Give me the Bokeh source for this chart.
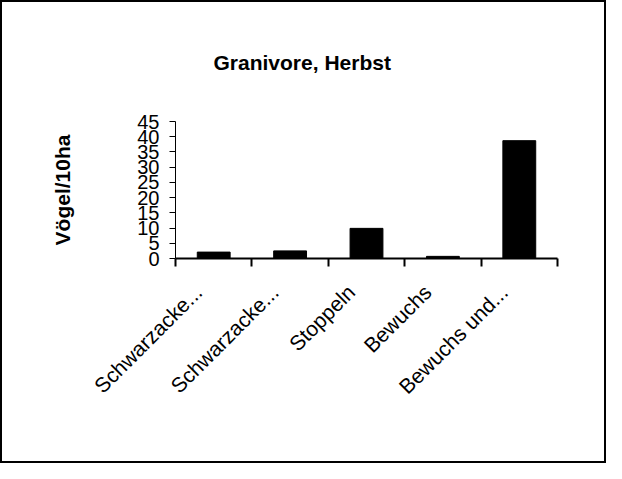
from bokeh.plotting import figure
from bokeh.models import Range1d, FixedTicker
from bokeh.embed import file_html
from bokeh.resources import INLINE
import math

categories = ["Schwarzacke...", "Schwarzacke...", "Stoppeln", "Bewuchs", "Bewuchs und..."]
values = [2.1, 2.5, 9.9, 0.7, 38.7]
y_ticks = [0, 5, 10, 15, 20, 25, 30, 35, 40, 45]
title_text = "Granivore, Herbst"
y_label = "Vögel/10ha"

FONT = "Liberation Sans"

centers = [i + 0.5 for i in range(len(categories))]
bounds = [float(i) for i in range(len(categories) + 1)]
# label anchors sit slightly left of the bar centres (as in the original)
label_pos = [c - 0.2 for c in centers]

p = figure(width=606, height=463, output_backend="svg", toolbar_location=None,
           x_range=Range1d(0, len(categories)), y_range=Range1d(0, 45),
           min_border_left=175, min_border_right=49, min_border_top=121,
           min_border_bottom=205)
p.styles = {"outline": "2px solid black", "outline-offset": "-2px"}
p.outline_line_color = None
p.xgrid.visible = False
p.ygrid.visible = False
p.background_fill_color = None
p.border_fill_color = None

p.vbar(x=centers, top=values, width=0.43, fill_color="black", line_color="black")

# title
p.title.text = title_text
p.title.align = "left"
p.title.offset = 38
p.title.standoff = 95
p.title.text_font = FONT
p.title.text_font_size = "21px"
p.title.text_font_style = "bold"
p.title.text_color = "black"

# x axis
xa = p.xaxis[0]
xa.ticker = FixedTicker(ticks=label_pos, minor_ticks=bounds)
xa.major_label_overrides = {c: lab for c, lab in zip(label_pos, categories)}
xa.major_tick_out = 0
xa.major_tick_in = 0
xa.minor_tick_out = 8
xa.minor_tick_in = 0
xa.minor_tick_line_width = 2
xa.minor_tick_line_color = "black"
xa.axis_line_width = 2
xa.axis_line_color = "black"
xa.major_label_orientation = math.pi / 4
xa.major_label_text_font = FONT
xa.major_label_text_font_size = "21px"
xa.major_label_text_color = "black"
xa.major_label_standoff = 22

# y axis
ya = p.yaxis[0]
ya.ticker = FixedTicker(ticks=y_ticks)
ya.minor_tick_line_color = None
ya.major_tick_out = 6
ya.major_tick_in = 0
ya.major_tick_line_color = "black"
ya.axis_line_color = "black"
ya.major_label_text_font = FONT
ya.major_label_text_font_size = "20px"
ya.major_label_text_color = "black"
ya.major_label_standoff = 10
ya.axis_label = y_label
ya.axis_label_text_font = FONT
ya.axis_label_text_font_size = "21px"
ya.axis_label_text_font_style = "bold"
ya.axis_label_text_color = "black"
ya.axis_label_standoff = 60

open("out.html", "w").write(file_html(p, INLINE))
